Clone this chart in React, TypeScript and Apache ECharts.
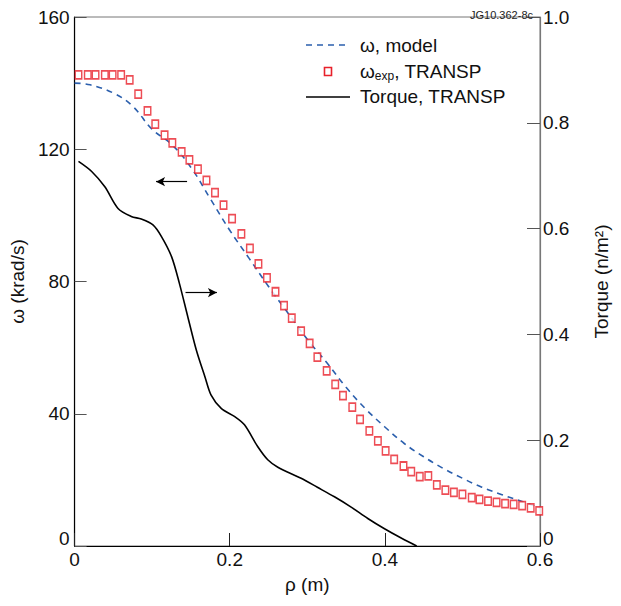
import { useEffect, useRef } from 'react';
import * as echarts from 'echarts';

// rho (m) / omega (krad/s) of the model profile
const rhoModel = [0, 0.02, 0.05, 0.075, 0.1, 0.125, 0.15, 0.175, 0.2, 0.225, 0.25, 0.275, 0.3, 0.325, 0.35, 0.375, 0.4, 0.425, 0.45, 0.475, 0.5, 0.525, 0.55, 0.575, 0.6];
const omegaModel = [140, 139.5, 137, 133, 126, 121.5, 114.5, 105, 95.5, 87, 78.5, 70.5, 62.5, 55.5, 48, 41.5, 36, 31, 27, 23.5, 20.5, 17.8, 15.6, 13.6, 11.5];

// experimental omega (TRANSP)
const rhoExp = [
    0.005, 0.017, 0.027, 0.039, 0.049, 0.06, 0.071, 0.082, 0.094, 0.104, 0.116, 0.126, 0.138, 0.148,
    0.159, 0.17, 0.181, 0.192, 0.203, 0.215, 0.226, 0.237, 0.248, 0.259, 0.27, 0.28, 0.292, 0.303,
    0.313, 0.325, 0.336, 0.346, 0.358, 0.368, 0.38, 0.391, 0.401, 0.412, 0.424, 0.434, 0.445, 0.456,
    0.467, 0.478, 0.489, 0.5, 0.512, 0.522, 0.533, 0.544, 0.555, 0.566, 0.577, 0.588, 0.599,
];
const omegaExp = [
    142.5, 142.5, 142.5, 142.5, 142.5, 142.5, 141.0, 136.7, 131.6, 127.6, 124.3, 121.9, 119.2, 116.8,
    114.0, 110.6, 106.9, 103.1, 99.0, 94.4, 90.0, 85.3, 81.1, 76.9, 72.7, 68.9, 65.0, 61.3,
    57.1, 53.0, 48.9, 45.5, 42.0, 38.3, 34.8, 31.8, 28.8, 26.2, 24.2, 22.5, 21.0, 21.2,
    18.5, 16.9, 16.2, 15.6, 14.6, 14.1, 13.6, 13.2, 12.8, 12.6, 12.2, 11.5, 10.6,
];

// torque (n/m2), right axis
const rhoTorque = [0.005, 0.022, 0.039, 0.056, 0.073, 0.086, 0.101, 0.112, 0.125, 0.135, 0.146, 0.157, 0.168, 0.176, 0.189, 0.206, 0.219, 0.236, 0.249, 0.262, 0.292, 0.313, 0.335, 0.356, 0.378, 0.399, 0.421, 0.441];
const torque = [0.727, 0.708, 0.679, 0.638, 0.623, 0.618, 0.607, 0.585, 0.547, 0.497, 0.433, 0.37, 0.32, 0.285, 0.26, 0.245, 0.229, 0.188, 0.163, 0.149, 0.128, 0.111, 0.093, 0.074, 0.052, 0.033, 0.015, 0.0];

const xTicks = [0, 0.6, 0.2];
const omegaTicks = [0, 160, 40];
const torqueTicks = [0, 1, 0.2];

const seriesNames = ['ω, model', 'ωexp, TRANSP', 'Torque, TRANSP'];

const FONT = 'Liberation Sans, Arial, Helvetica, sans-serif';
const BLUE = '#2b5fad';
const RED = '#e8212b';

const zip = (xs: number[], ys: number[]) => xs.map((x, i) => [x, ys[i]]);

export default function App() {
    const chartRef = useRef<HTMLDivElement>(null);

    useEffect(() => {
        document.body.style.margin = '0';
        if (!chartRef.current) return;
        const chart = echarts.init(chartRef.current, null, { renderer: 'svg' });

        const oneDecimal = (v: number) => (v === 0 ? '0' : v.toFixed(1));
        // the zero labels of the y axes sit just above the x axis in the original
        const zeroUp = { z: { fontSize: 19, fontFamily: FONT, color: '#111', padding: [0, 0, 15, 0] } };
        const legendText = { fontSize: 19, fontFamily: FONT, fill: '#111', verticalAlign: 'middle' as const };

        const option: echarts.EChartsOption = {
            animation: false,
            backgroundColor: '#fff',
            textStyle: { fontFamily: FONT },
            title: {
                text: 'JG10.362-8c',
                right: 83,
                top: 4,
                textStyle: { fontSize: 11, fontWeight: 'normal', color: '#222', fontFamily: FONT },
            },
            grid: {
                left: 73,
                right: 81,
                top: 17,
                bottom: 60,
                show: true,
                borderColor: '#777',
                borderWidth: 1,
            },
            // legend drawn by hand so the icons look like the original (dash / square / solid)
            graphic: [
                { type: 'line', shape: { x1: 306, y1: 45, x2: 350, y2: 45 }, style: { stroke: BLUE, lineWidth: 1.6, lineDash: [6, 5] } },
                { type: 'text', x: 360, y: 45, style: { ...legendText, text: seriesNames[0] } },
                { type: 'rect', shape: { x: 324.5, y: 67.5, width: 7, height: 8 }, style: { fill: '#fff', stroke: RED, lineWidth: 1.6 } },
                {
                    type: 'text',
                    x: 360,
                    y: 71,
                    style: {
                        ...legendText,
                        text: '{n|ω}{s|exp}{n|, TRANSP}',
                        rich: {
                            n: { fontSize: 19, fontFamily: FONT, fill: '#111' },
                            s: { fontSize: 12, fontFamily: FONT, fill: '#111', padding: [9, 0, 0, 0] },
                        },
                    },
                },
                { type: 'line', shape: { x1: 306, y1: 97, x2: 350, y2: 97 }, style: { stroke: '#000', lineWidth: 1.6 } },
                { type: 'text', x: 360, y: 96, style: { ...legendText, text: seriesNames[2] } },
            ],
            xAxis: {
                type: 'value',
                min: xTicks[0],
                max: xTicks[1],
                interval: xTicks[2],
                name: 'ρ (m)',
                nameLocation: 'middle',
                nameGap: 29,
                nameTextStyle: { fontSize: 19, color: '#111', fontFamily: FONT },
                axisLine: { lineStyle: { color: '#000', width: 1.2 } },
                axisTick: { inside: true, length: 13, lineStyle: { color: '#222' } },
                axisLabel: { fontSize: 19, color: '#111', margin: 4, formatter: oneDecimal },
                splitLine: { show: false },
            },
            yAxis: [
                {
                    type: 'value',
                    min: omegaTicks[0],
                    max: omegaTicks[1],
                    interval: omegaTicks[2],
                    name: 'ω (krad/s)',
                    nameLocation: 'middle',
                    nameRotate: 90,
                    nameGap: 46,
                    nameTextStyle: { fontSize: 19, color: '#111', fontFamily: FONT },
                    axisLine: { show: true, lineStyle: { color: '#000', width: 1.2 } },
                    axisTick: { show: true, inside: true, length: 12, lineStyle: { color: '#555' } },
                    axisLabel: {
                        fontSize: 19,
                        color: '#111',
                        margin: 5,
                        formatter: (v: number) => (v === 0 ? '{z|0}' : String(v)),
                        rich: zeroUp,
                    },
                    splitLine: { show: false },
                },
                {
                    type: 'value',
                    position: 'right',
                    min: torqueTicks[0],
                    max: torqueTicks[1],
                    interval: torqueTicks[2],
                    name: 'Torque (n/m²)',
                    nameLocation: 'middle',
                    nameRotate: 90,
                    nameGap: 52,
                    nameTextStyle: { fontSize: 19, color: '#111', fontFamily: FONT },
                    axisLine: { show: true, lineStyle: { color: '#777', width: 1.2 } },
                    axisTick: { show: true, inside: true, length: 13, lineStyle: { color: '#555' } },
                    axisLabel: {
                        fontSize: 19,
                        color: '#111',
                        margin: 3,
                        formatter: (v: number) => (v === 0 ? '{z|0}' : v.toFixed(1)),
                        rich: zeroUp,
                    },
                    splitLine: { show: false },
                },
            ],
            series: [
                {
                    name: seriesNames[0],
                    type: 'line',
                    yAxisIndex: 0,
                    data: zip(rhoModel, omegaModel),
                    smooth: 0.4,
                    symbol: 'none',
                    lineStyle: { color: BLUE, width: 1.6, type: [6, 5] },
                    itemStyle: { color: BLUE },
                    markLine: {
                        silent: true,
                        symbol: ['none', 'arrow'],
                        symbolSize: [7, 9],
                        label: { show: false },
                        lineStyle: { color: '#000', width: 1.2, type: 'solid' },
                        data: [[{ coord: [0.145, 110.2] }, { coord: [0.105, 110.2] }]],
                    },
                    z: 3,
                },
                {
                    name: seriesNames[1],
                    type: 'scatter',
                    yAxisIndex: 0,
                    data: zip(rhoExp, omegaExp),
                    symbol: 'rect',
                    symbolSize: [6.5, 8],
                    itemStyle: { color: '#fff', borderColor: RED, borderWidth: 1.6 },
                    z: 4,
                },
                {
                    name: seriesNames[2],
                    type: 'line',
                    yAxisIndex: 1,
                    data: zip(rhoTorque, torque),
                    smooth: 0.3,
                    symbol: 'none',
                    lineStyle: { color: '#000', width: 1.6 },
                    itemStyle: { color: '#000' },
                    markLine: {
                        silent: true,
                        symbol: ['none', 'arrow'],
                        symbolSize: [7, 9],
                        label: { show: false },
                        lineStyle: { color: '#000', width: 1.2, type: 'solid' },
                        data: [[{ coord: [0.143, 0.479] }, { coord: [0.1835, 0.479] }]],
                    },
                    z: 3,
                },
            ],
        };

        chart.setOption(option);

        return () => {
            chart.dispose();
        };
    }, []);

    return <div ref={chartRef} style={{ width: '621px', height: '606px' }} />;
}
